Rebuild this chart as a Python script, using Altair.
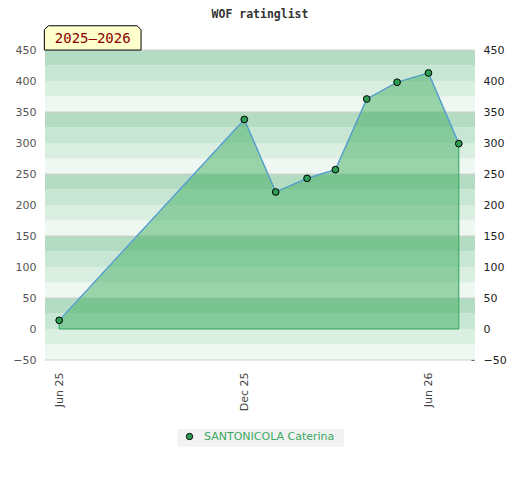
import altair as alt
import pandas as pd

# ---- data ----
dates = ["2025-06-01", "2025-12-01", "2026-01-01", "2026-02-01", "2026-03-01",
         "2026-04-01", "2026-05-01", "2026-06-01", "2026-07-01"]
ratings = [14, 338, 221, 243, 257, 371, 398, 413, 299]
player = "SANTONICOLA Caterina"
season = "2025–2026"
chart_title = "WOF ratinglist"

y_labels = [-50, 0, 50, 100, 150, 200, 250, 300, 350, 400, 450]
y_minor = list(range(-50, 451, 10))
grid_lines = [450, 350, 250, 150, 50, -50]
band_lo = [-50, -25, 0, 25, 50, 75, 100, 125, 150, 175, 200, 225, 250, 275,
           300, 325, 350, 375, 400, 425]
band_cycle = ["#eef7f2", "#dbeee2", "#c7e6d3", "#b3dcc3"]

df = pd.DataFrame({"date": dates, "rating": ratings, "player": player})
bands = pd.DataFrame({
    "lo": band_lo,
    "hi": [v + 25 for v in band_lo],
    "shade": [band_cycle[i % 4] for i in range(len(band_lo))],
})
grid_df = pd.DataFrame({"g": grid_lines})

W, H = 430, 310
yscale = alt.Scale(domain=[-50, 450], nice=False, zero=False)
xscale = alt.Scale(type="utc",
                   domain=[alt.DateTime(year=2025, month=5, date=18, utc=True),
                           alt.DateTime(year=2026, month=7, date=17, utc=True)])

left_axis = alt.Axis(values=y_labels, ticks=False, grid=False, domain=True,
                     domainColor="#d0d0d0", labelFont="DejaVu Sans", labelFontSize=11,
                     labelColor="#555555", labelPadding=9, title=None, orient="left")
right_axis = alt.Axis(values=y_minor, ticks=True, tickSize=3, tickColor="#000000",
                      tickWidth=1, grid=False, domain=False, orient="right", offset=-4,
                      labelExpr="datum.value % 50 == 0 ? datum.label : ''",
                      labelFont="DejaVu Sans", labelFontSize=11, labelColor="#222222",
                      labelPadding=9, labelOverlap=False, title=None)
x_axis = alt.Axis(values=[alt.DateTime(year=2025, month=6, date=1, utc=True),
                          alt.DateTime(year=2025, month=12, date=1, utc=True),
                          alt.DateTime(year=2026, month=6, date=1, utc=True)],
                  labelExpr="utcFormat(datum.value, '%b %y')",
                  labelAngle=270, labelAlign="right",
                  labelBaseline="middle", ticks=False, domain=False, grid=False,
                  labelFont="DejaVu Sans", labelFontSize=11, labelColor="#444444",
                  labelPadding=12, title=None)

band_layer = alt.Chart(bands).mark_rect().encode(
    y=alt.Y("lo:Q", scale=yscale, axis=left_axis),
    y2="hi:Q",
    color=alt.Color("shade:N", scale=None),
)

grid_layer = alt.Chart(grid_df).mark_rule(color="#d0d0d0", strokeWidth=1).encode(
    y=alt.Y("g:Q", scale=yscale, axis=None),
)

area_layer = alt.Chart(df).transform_calculate(base="0").mark_area(
    fill="#3aaa5a", fillOpacity=0.47, stroke="#2ea55a", strokeWidth=1
).encode(
    x=alt.X("date:T", scale=xscale, axis=None),
    y=alt.Y("rating:Q", scale=yscale, axis=None, stack=None),
    y2="base:Q",
)

line_layer = alt.Chart(df).mark_line(color="#5b9fd8", strokeWidth=1.3).encode(
    x=alt.X("date:T", scale=xscale, axis=x_axis),
    y=alt.Y("rating:Q", scale=yscale, axis=right_axis),
)

point_layer = alt.Chart(df).mark_point(
    filled=True, size=45, stroke="#000000", strokeWidth=1, opacity=1
).encode(
    x=alt.X("date:T", scale=xscale, axis=None),
    y=alt.Y("rating:Q", scale=yscale, axis=None),
    fill=alt.Fill("player:N", scale=alt.Scale(range=["#2e9e55"]),
                  legend=alt.Legend(orient="none", legendX=139, legendY=381, title=None,
                                    padding=0, labelColor="#3aa861",
                                    labelFont="DejaVu Sans", labelFontSize=11,
                                    labelOffset=9, symbolType="circle", symbolSize=40,
                                    symbolStrokeColor="#000000", symbolStrokeWidth=1)),
)

legend_box = alt.Chart(pd.DataFrame({"k": [0]})).mark_rect(color="#f2f2f2").encode(
    x=alt.value(132.3), x2=alt.value(299), y=alt.value(379), y2=alt.value(396.7)
)

box_path = ("M -1 0.2513 L -1 -0.17 L -0.917 -0.2513 L 0.917 -0.2513 "
            "L 1 -0.17 L 1 0.2513 Z")
season_box = alt.Chart(pd.DataFrame({"k": [0]})).mark_point(
    shape=box_path, size=9351, filled=True, fill="#ffffcc", stroke="#000000",
    strokeWidth=1, opacity=1, fillOpacity=1, strokeOpacity=1
).encode(x=alt.value(47.7), y=alt.value(-12.1))

season_text = alt.Chart(pd.DataFrame({"t": [season]})).mark_text(
    font="DejaVu Sans Mono", fontSize=14, color="#8b0000", align="center",
    baseline="middle"
).encode(text="t:N", x=alt.value(47.7), y=alt.value(-11))

title_text = alt.Chart(pd.DataFrame({"t": [chart_title]})).mark_text(
    font="DejaVu Sans Mono", fontSize=11.5, fontWeight="bold", color="#333333",
    align="center", baseline="middle"
).encode(text="t:N", x=alt.value(215), y=alt.value(-35))

chart = alt.layer(
    band_layer, grid_layer, area_layer, line_layer, point_layer,
    legend_box, season_box, season_text, title_text
).resolve_axis(x="independent", y="independent").properties(
    width=W, height=H,
    autosize=alt.AutoSizeParams(type="none"),
    padding={"left": 37, "top": 42, "right": 37, "bottom": 112},
    background="#ffffff",
).configure_view(stroke=None)

chart.save("out.html", embed_options={"renderer": "svg", "actions": False})
